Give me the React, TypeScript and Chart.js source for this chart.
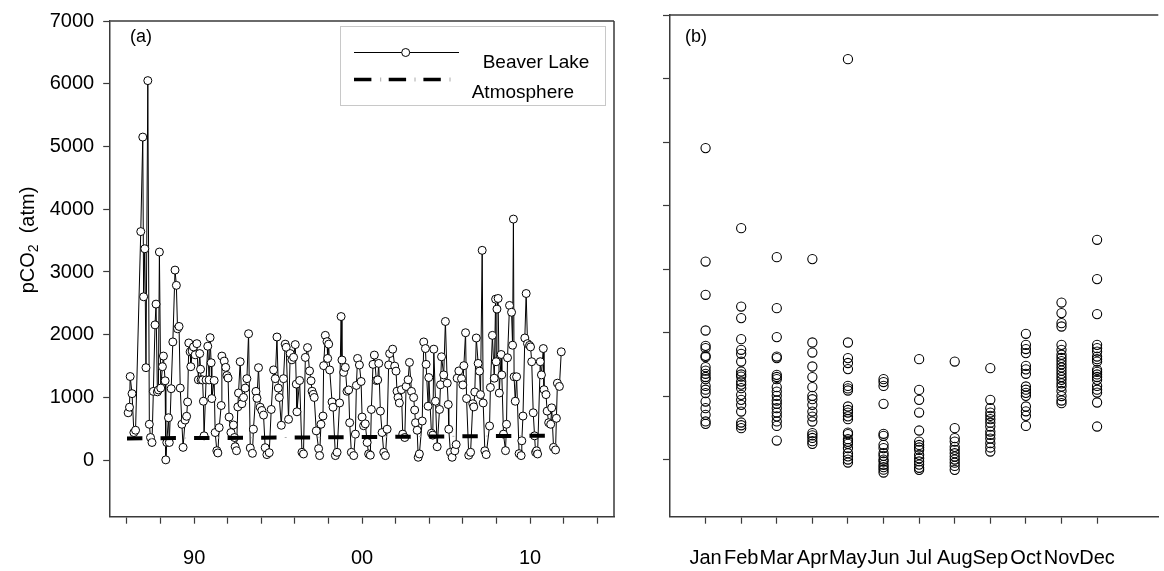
import React, { useEffect, useRef } from 'react';
import { Chart, registerables } from 'chart.js';

Chart.register(...registerables);

const FONT = '"Liberation Sans", Arial, Helvetica, sans-serif';
const AXIS_COLOR = '#3a3a3a';

// ---------- Panel (a): Beaver Lake time series ----------
const lakeYears = [
  1986.07, 1986.15, 1986.19, 1986.30, 1986.41, 1986.51, 1986.82, 1986.94, 1986.99, 1987.06,
  1987.13, 1987.24, 1987.33, 1987.40, 1987.49, 1987.57, 1987.67, 1987.73, 1987.81, 1987.87,
  1987.93, 1988.01, 1988.11, 1988.17, 1988.27, 1988.31, 1988.37, 1988.47, 1988.52, 1988.63,
  1988.73, 1988.86, 1988.94, 1989.01, 1989.10, 1989.17, 1989.27, 1989.34, 1989.46, 1989.55,
  1989.61, 1989.68, 1989.76, 1989.80, 1989.88, 1989.96, 1990.06, 1990.16, 1990.25,
  1990.33, 1990.38, 1990.41, 1990.50, 1990.55, 1990.59, 1990.71, 1990.81, 1990.89, 1990.95,
  1991.01, 1991.05, 1991.19, 1991.25, 1991.35, 1991.41, 1991.49, 1991.61, 1991.65, 1991.79,
  1991.88, 1991.95, 1992.02, 1992.08, 1992.19, 1992.34, 1992.40, 1992.44, 1992.52, 1992.60,
  1992.64, 1992.74, 1992.84, 1992.94, 1993.04, 1993.14, 1993.24, 1993.34, 1993.47, 1993.53,
  1993.68, 1993.74, 1993.83, 1993.93, 1994.03, 1994.13, 1994.23, 1994.33, 1994.47, 1994.59,
  1994.73, 1994.83, 1994.93, 1995.01, 1995.07, 1995.19, 1995.32, 1995.42, 1995.48, 1995.62,
  1995.72, 1995.82, 1995.92, 1996.02, 1996.08, 1996.12, 1996.28, 1996.42, 1996.51, 1996.62,
  1996.75, 1996.87, 1996.96, 1997.02, 1997.09, 1997.15, 1997.27, 1997.41, 1997.47, 1997.55,
  1997.67, 1997.71, 1997.81, 1997.91, 1997.95, 1998.01, 1998.07, 1998.21, 1998.27, 1998.41,
  1998.51, 1998.66, 1998.75, 1998.80, 1998.90, 1999.00, 1999.10, 1999.20, 1999.26, 1999.36,
  1999.50, 1999.60, 1999.66, 1999.73, 1999.84, 1999.94, 2000.00, 2000.09, 2000.19, 2000.30,
  2000.39, 2000.49, 2000.55, 2000.65, 2000.73, 2000.85, 2000.93, 2000.99, 2001.09, 2001.19,
  2001.29, 2001.39, 2001.49, 2001.58, 2001.64, 2001.82, 2001.94, 2002.02, 2002.08, 2002.14,
  2002.22, 2002.34, 2002.42, 2002.54, 2002.62, 2002.74, 2002.82, 2002.94, 2003.07, 2003.13,
  2003.18, 2003.28, 2003.34, 2003.41, 2003.58, 2003.67, 2003.77, 2003.81, 2003.93, 2003.97,
  2004.13, 2004.21, 2004.27, 2004.37, 2004.47, 2004.61, 2004.67, 2004.73, 2004.86, 2004.96,
  2005.07, 2005.13, 2005.16, 2005.26, 2005.36, 2005.52, 2005.60, 2005.66, 2005.76, 2005.92,
  2006.00, 2006.06, 2006.16, 2006.22, 2006.35, 2006.46, 2006.59, 2006.65, 2006.71, 2006.80,
  2006.91, 2006.99, 2007.05, 2007.15, 2007.21, 2007.31, 2007.39, 2007.59, 2007.64, 2007.76,
  2007.87, 2007.95, 2007.98, 2008.03, 2008.10, 2008.17, 2008.28, 2008.32, 2008.42, 2008.54,
  2008.60, 2008.66, 2008.78, 2008.90, 2008.96, 2009.01, 2009.05, 2009.12, 2009.20, 2009.35,
  2009.47, 2009.51, 2009.58, 2009.69, 2009.77, 2009.85, 2009.97, 2010.03, 2010.10, 2010.19,
  2010.27, 2010.33, 2010.39, 2010.45, 2010.61, 2010.68, 2010.79, 2010.83, 2010.95, 2011.02,
  2011.11, 2011.23, 2011.29, 2011.40, 2011.52, 2011.57, 2011.63, 2011.75, 2011.86,
];

const lakePco2 = [
  756, 845, 1334, 1061, 441, 478, 3644, 5150, 2605, 3370,
  1475, 6050, 573, 362, 283, 1097, 2157, 2488, 1090, 1120,
  3318, 1150, 1491, 1660, 1266, 6, 283, 677, 283, 1140,
  1885, 3030, 2787, 2095, 2132, 1150, 573, 205, 640, 700,
  929, 1869, 1728, 1491, 1739, 1806, 1680, 1858, 1282,
  1700, 1450, 1282, 1280, 940, 389, 1280, 1817, 1280, 1953,
  1554, 983, 1271, 441, 152, 116, 520, 872, 1660, 1580,
  1480, 1350, 1310, 688, 441, 562, 362, 215, 152, 850,
  1071, 1570, 900, 1000, 1150, 1300, 2016, 195, 110, 494,
  1097, 987, 1475, 845, 793, 720, 200, 90, 120, 809,
  1439, 1300, 1964, 1150, 1000, 557, 1300, 1850, 1800, 652,
  1700, 1600, 1640, 1843, 1213, 772, 1271, 126, 100, 1638,
  1795, 1423, 1266, 1100, 1050, 1000, 468, 184, 74, 573,
  704, 1507, 1990, 1890, 1622, 1850, 1439, 929, 845, 74,
  126, 913, 2290, 1597, 1400, 1480, 1100, 1120, 598, 126,
  74, 416, 1192, 1622, 1518, 1255, 688, 550, 580, 283,
  100, 80, 809, 1528, 1676, 1270, 1280, 1543, 783, 441,
  126, 74, 494, 1518, 1700, 1770, 1500, 1420, 1100, 1000,
  913, 1124, 416, 362, 1176, 1282, 1559, 1097, 1000, 800,
  598, 478, 47, 100, 625, 1885, 1780, 1528, 861, 1318,
  430, 400, 1770, 940, 215, 809, 1203, 1649, 1360, 2211,
  1228, 888, 494, 126, 47, 150, 250, 1307, 1423, 1300,
  1200, 1507, 2032, 983, 80, 126, 900, 850, 1087, 1948,
  1543, 1420, 1046, 3345, 913, 150, 90, 546, 1160, 1990,
  1307, 2567, 1570, 2409, 2578, 1071, 1685, 1360, 416, 153,
  573, 1633, 2467, 2358, 1833, 3843, 1330, 940, 1330, 105,
  74, 310, 704, 1948, 2657, 1858, 1830, 1806, 1570, 756,
  389, 126, 150, 100, 1570, 1360, 1780, 1124, 1046, 783,
  598, 573, 835, 205, 164, 668, 1228, 1176, 1728,
];

const atmYears = [
  1986, 1987, 1988, 1989, 1990, 1991, 1992, 1993, 1994, 1995, 1996, 1997, 1998,
  1999, 2000, 2001, 2002, 2003, 2004, 2005, 2006, 2007, 2008, 2009, 2010, 2011,
];
const atmPco2 = [
  347, 349, 351, 353, 354, 356, 356, 357, 359, 361, 363, 364, 367,
  368, 370, 371, 373, 375, 378, 380, 382, 384, 386, 387, 390, 392,
];

const yearTicks = [1986, 1988, 1990, 1992, 1994, 1996, 1998, 2000, 2002, 2004, 2006, 2008, 2010, 2012, 2014];
const labelledYears = [1990, 2000, 2010];
const labelledYearText = ['90', '00', '10'];
const pco2Ticks = [0, 1000, 2000, 3000, 4000, 5000, 6000, 7000];

// ---------- Panel (b): values grouped by month ----------
const monthNames = ['Jan', 'Feb', 'Mar', 'Apr', 'May', 'Jun', 'Jul', 'Aug', 'Sep', 'Oct', 'Nov', 'Dec'];
const janPco2 = [4904, 3118, 2594, 2032, 1790, 1754, 1633, 1612, 1455, 1400, 1350, 1300, 1266, 1160, 1100, 1046, 913, 809, 704, 600, 562];
const febPco2 = [3644, 2409, 2227, 1896, 1728, 1665, 1543, 1386, 1340, 1307, 1228, 1180, 1124, 1019, 940, 861, 756, 583, 540, 494];
const marPco2 = [3187, 2384, 1928, 1622, 1597, 1334, 1300, 1266, 1140, 1071, 1003, 930, 877, 809, 740, 680, 600, 530, 299];
const aprPco2 = [3156, 1843, 1685, 1465, 1298, 1140, 1003, 950, 861, 756, 677, 598, 416, 380, 340, 290, 247];
const mayPco2 = [6305, 1843, 1597, 1520, 1424, 1160, 1120, 1087, 835, 780, 740, 680, 636, 425, 400, 320, 280, 247, 180, 100, 50, 0, -47];
const junPco2 = [1266, 1220, 1160, 877, 405, 373, 231, 180, 100, 58, 0, -31, -83, -120, -160, -205];
const julPco2 = [1581, 1097, 940, 740, 457, 283, 230, 190, 153, 74, 20, -30, -80, -130, -162];
const augPco2 = [1543, 494, 337, 283, 200, 153, 100, 47, 0, -50, -100, -162];
const sepPco2 = [1439, 940, 809, 740, 688, 636, 580, 520, 441, 389, 330, 258, 190, 126];
const octPco2 = [1980, 1806, 1740, 1676, 1475, 1420, 1350, 1150, 1100, 1050, 1003, 835, 760, 688, 530];
const novPco2 = [2472, 2306, 2148, 2095, 1806, 1728, 1650, 1600, 1550, 1500, 1450, 1400, 1350, 1300, 1255, 1200, 1150, 1080, 1000, 930, 888];
const decPco2 = [3460, 2841, 2290, 1806, 1754, 1700, 1622, 1580, 1543, 1413, 1380, 1340, 1300, 1255, 1160, 1100, 1055, 898, 520];
const monthlyPco2 = [janPco2, febPco2, marPco2, aprPco2, mayPco2, junPco2, julPco2, augPco2, sepPco2, octPco2, novPco2, decPco2];

const tickFont = { family: FONT, size: 20 };

function commonGrid() {
  return {
    display: true,
    drawOnChartArea: false,
    drawTicks: true,
    tickLength: 7,
    tickColor: AXIS_COLOR,
    tickWidth: 1.2,
  };
}

const framePlugin = (sides: { top: boolean; right: boolean }) => ({
  id: 'frame',
  afterDraw(chart: any) {
    const { ctx, chartArea } = chart;
    ctx.save();
    ctx.strokeStyle = AXIS_COLOR;
    ctx.lineWidth = 1.5;
    ctx.beginPath();
    if (sides.top) {
      ctx.moveTo(chartArea.left, chartArea.top);
      ctx.lineTo(chartArea.right, chartArea.top);
    }
    if (sides.right) {
      ctx.moveTo(chartArea.right, chartArea.top);
      ctx.lineTo(chartArea.right, chartArea.bottom);
    }
    ctx.stroke();
    ctx.restore();
  },
});

const panelLabelPlugin = (text: string, x: number) => ({
  id: 'panelLabel' + text,
  afterDraw(chart: any) {
    const { ctx } = chart;
    ctx.save();
    ctx.fillStyle = '#000';
    ctx.font = `18px ${FONT}`;
    ctx.textBaseline = 'middle';
    ctx.textAlign = 'left';
    ctx.fillText(text, x, 37);
    ctx.restore();
  },
});

const yTitlePlugin = {
  id: 'yTitle',
  afterDraw(chart: any) {
    const { ctx } = chart;
    ctx.save();
    ctx.translate(34, 240);
    ctx.rotate(-Math.PI / 2);
    ctx.fillStyle = '#000';
    ctx.textBaseline = 'alphabetic';
    ctx.textAlign = 'left';
    const big = `20px ${FONT}`;
    const small = `14px ${FONT}`;
    ctx.font = big;
    const w1 = ctx.measureText('pCO').width;
    const w3 = ctx.measureText('  (atm)').width;
    ctx.font = small;
    const w2 = ctx.measureText('2').width;
    let x = -(w1 + w2 + w3) / 2;
    ctx.font = big;
    ctx.fillText('pCO', x, 0);
    x += w1;
    ctx.font = small;
    ctx.fillText('2', x, 4);
    x += w2;
    ctx.font = big;
    ctx.fillText('  (atm)', x, 0);
    ctx.restore();
  },
};

const legendPlugin = {
  id: 'customLegend',
  afterDraw(chart: any) {
    const { ctx } = chart;
    ctx.save();
    ctx.fillStyle = '#fff';
    ctx.fillRect(340.5, 26.5, 265, 79);
    ctx.strokeStyle = '#c8c8c8';
    ctx.lineWidth = 1;
    ctx.strokeRect(340.5, 26.5, 265, 79);
    ctx.strokeStyle = '#000';
    ctx.lineWidth = 1;
    ctx.beginPath();
    ctx.moveTo(354, 52.5);
    ctx.lineTo(459, 52.5);
    ctx.stroke();
    ctx.beginPath();
    ctx.arc(405.7, 52.5, 4, 0, Math.PI * 2);
    ctx.fillStyle = '#fff';
    ctx.fill();
    ctx.stroke();
    ctx.lineWidth = 3.5;
    ctx.setLineDash([17.4, 17.3]);
    ctx.beginPath();
    ctx.moveTo(354, 79.5);
    ctx.lineTo(442, 79.5);
    ctx.stroke();
    ctx.setLineDash([]);
    ctx.strokeStyle = '#aaa';
    ctx.lineWidth = 1;
    ctx.beginPath();
    [380.7, 415, 450].forEach((px) => {
      ctx.moveTo(px, 77.5);
      ctx.lineTo(px, 81.5);
    });
    ctx.stroke();
    ctx.fillStyle = '#000';
    ctx.font = `19px ${FONT}`;
    ctx.textBaseline = 'middle';
    ctx.textAlign = 'left';
    ctx.fillText('Beaver Lake', 482.7, 62.5);
    ctx.fillText('Atmosphere', 471.7, 92.5);
    ctx.restore();
  },
};

export default function App() {
  const leftRef = useRef<HTMLCanvasElement | null>(null);
  const rightRef = useRef<HTMLCanvasElement | null>(null);

  useEffect(() => {
    if (!leftRef.current || !rightRef.current) return;

    const lakeData = lakeYears.map((x, i) => ({ x, y: lakePco2[i] }));
    const atmData = atmYears.map((x, i) => ({ x, y: atmPco2[i] }));

    const left = new Chart(leftRef.current, {
      type: 'line',
      data: {
        datasets: [
          {
            label: 'Atmosphere',
            data: atmData,
            borderColor: '#000',
            borderWidth: 4,
            borderDash: [15.4, 18.14],
            borderCapStyle: 'butt',
            pointRadius: 0,
            order: 0,
          } as any,
          {
            label: 'Atmosphere (thin)',
            data: atmData,
            borderColor: '#b0b0b0',
            borderWidth: 1,
            borderDash: [2, 31.54],
            borderDashOffset: 10,
            pointRadius: 0,
            order: 1,
          } as any,
          {
            label: 'Beaver Lake',
            data: lakeData,
            borderColor: '#000',
            borderWidth: 1,
            pointRadius: 4,
            pointBackgroundColor: '#fff',
            pointBorderColor: '#000',
            pointBorderWidth: 1,
            tension: 0,
            order: 2,
          },
        ],
      },
      options: {
        responsive: false,
        animation: false,
        events: [],
        layout: { padding: { top: 15, right: 26, left: 0, bottom: 0 } },
        plugins: { legend: { display: false }, tooltip: { enabled: false } },
        scales: {
          x: {
            type: 'linear',
            min: 1985,
            max: 2015,
            afterBuildTicks: (axis: any) => {
              axis.ticks = yearTicks.map((value) => ({ value }));
            },
            afterFit: (scale: any) => {
              scale.height = 54.3;
            },
            grid: commonGrid(),
            border: { display: true, color: AXIS_COLOR, width: 1.5 },
            ticks: {
              autoSkip: false,
              maxRotation: 0,
              padding: 23,
              color: '#000',
              font: tickFont,
              callback: (v: any) => {
                const idx = labelledYears.indexOf(Number(v));
                return idx >= 0 ? labelledYearText[idx] : '';
              },
            },
          },
          y: {
            type: 'linear',
            min: -900,
            max: 7000,
            afterBuildTicks: (axis: any) => {
              axis.ticks = pco2Ticks.map((value) => ({ value }));
            },
            afterFit: (scale: any) => {
              scale.width = 110.2;
            },
            grid: commonGrid(),
            border: { display: true, color: AXIS_COLOR, width: 1.5 },
            ticks: {
              padding: 9,
              color: '#000',
              font: tickFont,
              callback: (v: any) => String(v),
            },
          },
        },
      } as any,
      plugins: [framePlugin({ top: true, right: true }), panelLabelPlugin('(a)', 130), yTitlePlugin, legendPlugin],
    });

    const monthData: { x: number; y: number }[] = [];
    monthlyPco2.forEach((vals, m) => {
      vals.forEach((y) => monthData.push({ x: m + 1, y }));
    });

    const right = new Chart(rightRef.current, {
      type: 'scatter',
      data: {
        datasets: [
          {
            label: 'Monthly pCO2',
            data: monthData,
            pointRadius: 4.6,
            pointBackgroundColor: 'rgba(255,255,255,0)',
            pointBorderColor: '#000',
            pointBorderWidth: 1.1,
            showLine: false,
          },
        ],
      },
      options: {
        responsive: false,
        animation: false,
        events: [],
        layout: { padding: { top: 15, right: 0, left: 0, bottom: 0 } },
        plugins: { legend: { display: false }, tooltip: { enabled: false } },
        scales: {
          x: {
            type: 'linear',
            min: 0,
            max: 13.72,
            afterBuildTicks: (axis: any) => {
              axis.ticks = monthNames.map((_, i) => ({ value: i + 1 }));
            },
            afterFit: (scale: any) => {
              scale.height = 54.3;
            },
            grid: commonGrid(),
            border: { display: true, color: AXIS_COLOR, width: 1.5 },
            ticks: {
              autoSkip: false,
              maxRotation: 0,
              padding: 23,
              color: '#000',
              font: tickFont,
              callback: (v: any) => monthNames[Number(v) - 1] ?? '',
            },
          },
          y: {
            type: 'linear',
            min: -900,
            max: 7000,
            afterBuildTicks: (axis: any) => {
              axis.ticks = pco2Ticks.map((value) => ({ value }));
            },
            afterFit: (scale: any) => {
              scale.width = 30;
            },
            grid: commonGrid(),
            border: { display: true, color: AXIS_COLOR, width: 1.5 },
            ticks: { display: false },
          },
        },
      } as any,
      plugins: [framePlugin({ top: true, right: false }), panelLabelPlugin('(b)', 45)],
    });

    return () => {
      left.destroy();
      right.destroy();
    };
  }, []);

  return (
    <div style={{ position: 'absolute', left: 0, top: 0, width: 1164, height: 571, background: '#fff', overflow: 'hidden' }}>
      <canvas ref={leftRef} width={640} height={571} style={{ position: 'absolute', left: 0, top: 0, width: 640, height: 571 }} />
      <canvas ref={rightRef} width={524} height={571} style={{ position: 'absolute', left: 640, top: 0, width: 524, height: 571 }} />
    </div>
  );
}
